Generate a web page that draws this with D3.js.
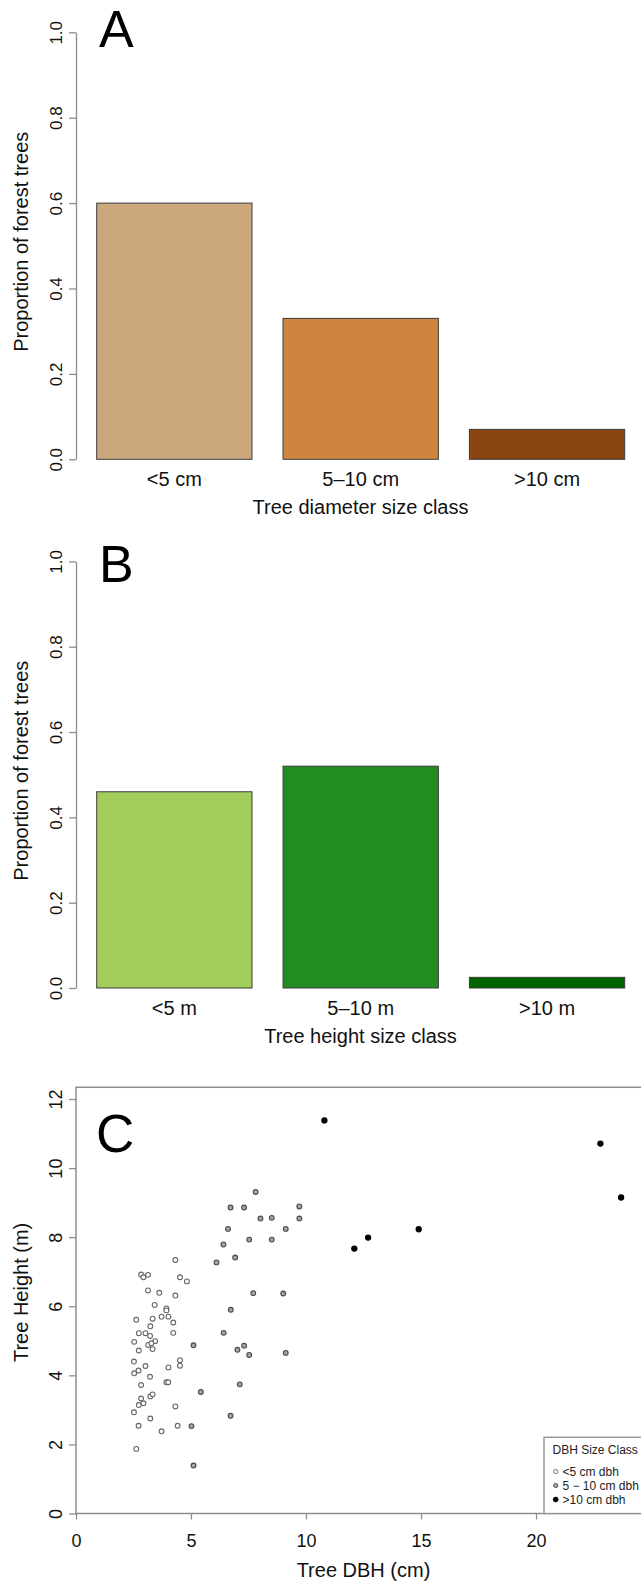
<!DOCTYPE html>
<html>
<head>
<meta charset="utf-8">
<script src="https://cdn.jsdelivr.net/npm/d3@7"></script>
<style>
	body { margin: 0; background: #fff; }
	svg { display: block; font-family: "Liberation Sans", Arial, sans-serif; }
</style>
</head>
<body>
<script>

/*
 * Data
 */

// Panel A - proportion of trees per diameter class
var diamClasses = [ '<5 cm', '5\u201310 cm', '>10 cm' ];
var diamProp = [ 0.60, 0.33, 0.07 ];
var diamColors = [ '#cba87c', '#cd853f', '#8b4513' ];

// Panel B - proportion of trees per height class
var heightClasses = [ '<5 m', '5\u201310 m', '>10 m' ];
var heightProp = [ 0.46, 0.52, 0.025 ];
var heightColors = [ '#a2cd5a', '#228b22', '#006400' ];

var propTicks = [ 0, 0.2, 0.4, 0.6, 0.8, 1.0 ];

// Panel C - tree dbh (cm) vs tree height (m)
var treeDbh = [
	4.32, 4.52, 4.82, 2.83, 2.93, 3.13, 3.13, 3.62, 4.32, 3.42,
	3.93, 3.93, 2.62, 3.33, 3.72, 4.02, 3.23, 4.23, 2.73, 3.02,
	3.22, 4.23, 2.53, 3.44, 3.14, 3.28, 2.73, 3.33, 4.52, 4.52,
	2.52, 3.02, 4.02, 2.72, 2.53, 3.22, 2.83, 3.93, 4.01, 2.83,
	2.73, 2.93, 3.23, 3.33, 2.52, 4.32, 3.23, 2.72, 4.42, 3.72,
	2.62,
	7.81, 6.72, 7.31, 9.71, 8.02, 8.51, 9.71, 6.61, 9.12, 7.53,
	8.51, 6.41, 6.92, 6.11, 7.71, 9.01, 6.73, 6.42, 5.11, 7.02,
	7.31, 7.53, 9.12, 7.12, 5.43, 6.72, 5.02, 5.11,
	10.80, 22.80, 23.70, 12.10, 12.70, 14.90
];
var treeHeight = [
	7.34, 6.84, 6.72, 6.92, 6.84, 6.91, 6.46, 6.39, 6.31, 6.04,
	5.94, 5.88, 5.61, 5.64, 5.70, 5.70, 5.42, 5.53, 5.22, 5.22,
	5.14, 5.23, 4.97, 4.99, 4.88, 4.93, 4.72, 4.76, 4.44, 4.28,
	4.40, 4.27, 4.23, 4.14, 4.06, 3.96, 3.72, 3.80, 3.80, 3.33,
	3.14, 3.19, 3.39, 3.45, 2.93, 3.10, 2.75, 2.54, 2.54, 2.38,
	1.87,
	9.31, 8.86, 8.86, 8.89, 8.54, 8.56, 8.54, 8.24, 8.24, 7.93,
	7.93, 7.79, 7.41, 7.27, 6.38, 6.37, 5.90, 5.23, 4.87, 4.74,
	4.86, 4.59, 4.65, 3.74, 3.52, 2.83, 2.53, 1.39,
	11.38, 10.71, 9.15, 7.67, 7.99, 8.23
];

var dbhTicks = [ 0, 5, 10, 15, 20 ];
var heightTicks = [ 0, 2, 4, 6, 8, 10, 12 ];

var sizeClassLabels = [ '<5 cm dbh', '5 \u2212 10 cm dbh', '>10 cm dbh' ];
var sizeClassFill = [ '#ffffff', '#a3a3a3', '#000000' ];
var sizeClassStroke = [ '#666666', '#4a4a4a', '#000000' ];


/*
 * Setup
 */

var axisColor = '#8e8e8e';

var svg = d3.select('body').append('svg')
	.attr('width', 641)
	.attr('height', 1582);

// Which dbh class a tree belongs to
function sizeClass(dbh) {
	if (dbh < 5) return 0;
	if (dbh <= 10) return 1;
	return 2;
}

// Style an axis the way R draws them
function styleAxis(g, fontSize) {
	g.selectAll('.domain').attr('stroke', axisColor).attr('stroke-width', 1.3);
	g.selectAll('.tick line').attr('stroke', axisColor).attr('stroke-width', 1.3);
	g.selectAll('.tick text')
		.attr('fill', '#111')
		.attr('font-size', fontSize)
		.attr('font-family', null);
}

// Rotated y tick labels (las = 0)
function rotateYLabels(g) {
	g.selectAll('.tick text')
		.attr('x', null)
		.attr('dy', null)
		.attr('text-anchor', 'middle')
		.attr('transform', 'translate(-14,0) rotate(-90)');
}


/*
 * Bar panels (A and B)
 */

function drawBarPanel(p) {
	var g = svg.append('g');

	var x = d3.scaleBand()
		.domain(p.cats)
		.range([ 96.7, 624.7 ])
		.paddingInner(1 / 6);

	var y = d3.scaleLinear()
		.domain([ 0, 1 ])
		.range([ p.y0, p.y1 ]);

	// bars
	g.selectAll('rect.bar')
		.data(p.vals)
		.enter().append('rect')
		.attr('class', 'bar')
		.attr('x', function(d, i) { return x(p.cats[i]); })
		.attr('y', function(d) { return y(d); })
		.attr('width', x.bandwidth())
		.attr('height', function(d) { return y(0) - y(d); })
		.attr('fill', function(d, i) { return p.colors[i]; })
		.attr('stroke', '#3c3c3c')
		.attr('stroke-width', 1);

	// y axis
	var ya = g.append('g')
		.attr('transform', 'translate(76,0)')
		.call(d3.axisLeft(y).tickValues(propTicks).tickFormat(d3.format('.1f')).tickSize(7).tickSizeOuter(0));
	styleAxis(ya, 17);
	rotateYLabels(ya);

	// category names
	g.selectAll('text.cat')
		.data(p.cats)
		.enter().append('text')
		.attr('class', 'cat')
		.attr('x', function(d) { return x(d) + x.bandwidth() / 2; })
		.attr('y', y(0) + 26.5)
		.attr('text-anchor', 'middle')
		.attr('font-size', 20)
		.attr('fill', '#111')
		.text(function(d) { return d; });

	// axis titles
	g.append('text')
		.attr('x', 360.5)
		.attr('y', y(0) + 54.5)
		.attr('text-anchor', 'middle')
		.attr('font-size', 20)
		.attr('fill', '#111')
		.text(p.xlab);

	g.append('text')
		.attr('transform', 'translate(28,' + (y(0.5) - 4) + ') rotate(-90)')
		.attr('text-anchor', 'middle')
		.attr('font-size', 20)
		.attr('fill', '#111')
		.text('Proportion of forest trees');

	// panel letter
	g.append('text')
		.attr('x', 99)
		.attr('y', p.letterY)
		.attr('font-size', 52)
		.attr('fill', '#000')
		.text(p.letter);
}

drawBarPanel({
	cats: diamClasses, vals: diamProp, colors: diamColors,
	y0: 459.3, y1: 32.3, letter: 'A', letterY: 46.5,
	xlab: 'Tree diameter size class'
});

drawBarPanel({
	cats: heightClasses, vals: heightProp, colors: heightColors,
	y0: 988, y1: 561.4, letter: 'B', letterY: 582,
	xlab: 'Tree height size class'
});


/*
 * Scatter panel (C)
 */

var xC = d3.scaleLinear().domain([ 0, 25 ]).range([ 76, 651 ]);
var yC = d3.scaleLinear().domain([ 0, 12.34 ]).range([ 1513.5, 1087.3 ]);

var gC = svg.append('g');

// axes
var xa = gC.append('g')
	.attr('transform', 'translate(0,' + yC(0) + ')')
	.call(d3.axisBottom(xC).tickValues(dbhTicks).tickSize(6).tickSizeOuter(0));
styleAxis(xa, 18);
xa.select('.domain').remove();
xa.selectAll('.tick text').attr('y', 33).attr('dy', null);

var yaC = gC.append('g')
	.attr('transform', 'translate(' + xC(0) + ',0)')
	.call(d3.axisLeft(yC).tickValues(heightTicks).tickSize(7).tickSizeOuter(0));
styleAxis(yaC, 18);
yaC.select('.domain').remove();
rotateYLabels(yaC);

// box
gC.append('rect')
	.attr('x', xC(0))
	.attr('y', yC.range()[1])
	.attr('width', xC(25) - xC(0))
	.attr('height', yC(0) - yC.range()[1])
	.attr('fill', 'none')
	.attr('stroke', axisColor)
	.attr('stroke-width', 1.5);

// points
var pts = treeDbh.map(function(d, i) { return { x: d, y: treeHeight[i], c: sizeClass(d) }; });

gC.selectAll('circle.pt')
	.data(pts)
	.enter().append('circle')
	.attr('class', 'pt')
	.attr('cx', function(d) { return xC(d.x); })
	.attr('cy', function(d) { return yC(d.y); })
	.attr('r', function(d) { return d.c == 2 ? 2.6 : 2.4; })
	.attr('fill', function(d) { return sizeClassFill[d.c]; })
	.attr('stroke', function(d) { return sizeClassStroke[d.c]; })
	.attr('stroke-width', 1.1);

// titles
gC.append('text')
	.attr('x', (xC(0) + xC(25)) / 2)
	.attr('y', 1577)
	.attr('text-anchor', 'middle')
	.attr('font-size', 20)
	.attr('fill', '#111')
	.text('Tree DBH (cm)');

gC.append('text')
	.attr('transform', 'translate(28,' + ((yC(0) + yC.range()[1]) / 2 - 8) + ') rotate(-90)')
	.attr('text-anchor', 'middle')
	.attr('font-size', 20)
	.attr('fill', '#111')
	.text('Tree Height (m)');

gC.append('text')
	.attr('x', 96)
	.attr('y', 1152)
	.attr('font-size', 53)
	.attr('fill', '#000')
	.text('C');

// legend (bottom right)
var lg = gC.append('g');

lg.append('rect')
	.attr('x', 544)
	.attr('y', 1437.3)
	.attr('width', xC(25) - 544)
	.attr('height', yC(0) - 1437.3)
	.attr('fill', '#fff')
	.attr('stroke', axisColor)
	.attr('stroke-width', 1.3);

lg.append('text')
	.attr('x', 552.5)
	.attr('y', 1453.5)
	.attr('font-size', 12)
	.attr('fill', '#222')
	.text('DBH Size Class');

var items = lg.selectAll('g.item')
	.data(sizeClassLabels)
	.enter().append('g')
	.attr('class', 'item')
	.attr('transform', function(d, i) { return 'translate(0,' + (1471.5 + i * 14) + ')'; });

items.append('circle')
	.attr('cx', 555.7)
	.attr('cy', 0)
	.attr('r', function(d, i) { return i == 2 ? 2.4 : 2.1; })
	.attr('fill', function(d, i) { return sizeClassFill[i]; })
	.attr('stroke', function(d, i) { return sizeClassStroke[i]; })
	.attr('stroke-width', 0.9);

items.append('text')
	.attr('x', 562.5)
	.attr('y', 4.2)
	.attr('font-size', 12)
	.attr('fill', '#222')
	.text(function(d) { return d; });

</script>
</body>
</html>
